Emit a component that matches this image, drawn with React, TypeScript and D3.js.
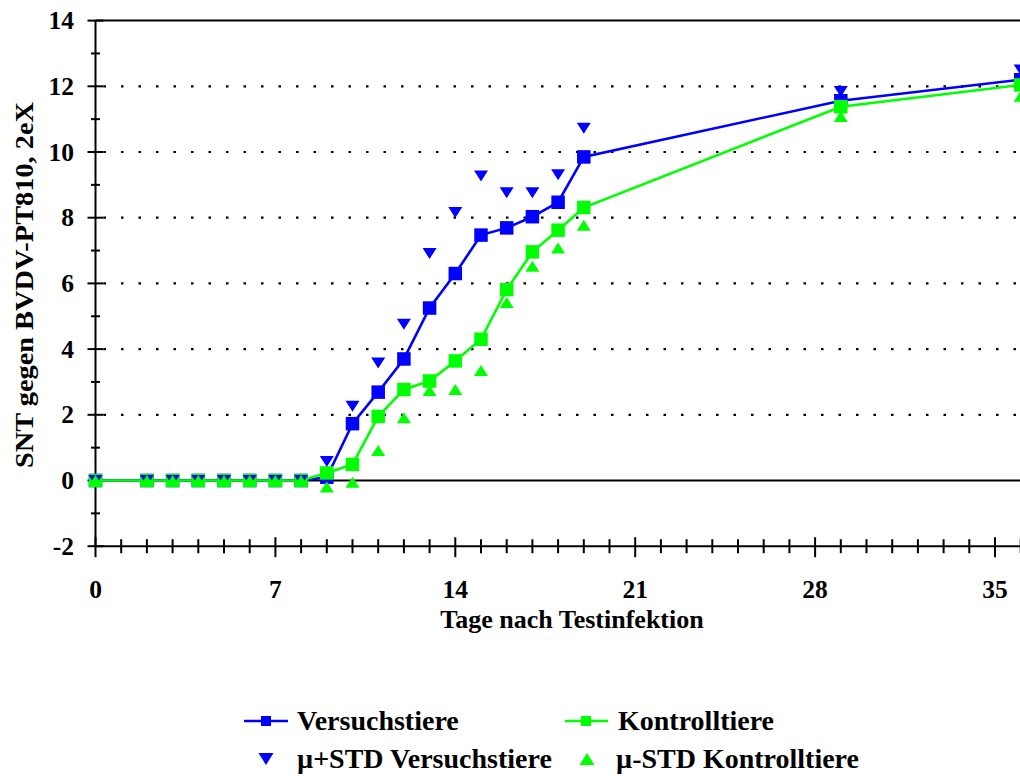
import React from "react";
import * as d3 from "d3";

const days = [0, 2, 3, 4, 5, 6, 7, 8, 9, 10, 11, 12, 13, 14, 15, 16, 17, 18, 19, 29, 36];
const versuch = [0, 0, 0, 0, 0, 0, 0, 0, 0.1, 1.73, 2.69, 3.7, 5.25, 6.3, 7.47, 7.69, 8.03, 8.47, 9.85, 11.56, 12.2];
const versuchPlus = [0, 0, 0, 0, 0, 0, 0, 0, 0.58, 2.26, 3.58, 4.76, 6.91, 8.16, 9.27, 8.76, 8.76, 9.31, 10.72, 11.84, 12.5];
const kontroll = [0, 0, 0, 0, 0, 0, 0, 0, 0.23, 0.49, 1.95, 2.77, 3.03, 3.64, 4.3, 5.81, 6.96, 7.62, 8.31, 11.38, 12.04];
const kontrollMinus = [0, 0, 0, 0, 0, 0, 0, 0, -0.2, -0.05, 0.91, 1.91, 2.74, 2.77, 3.35, 5.42, 6.52, 7.08, 7.77, 11.08, 11.7];

const xTicks = [0, 7, 14, 21, 28, 35];
const yTicks = [-2, 0, 2, 4, 6, 8, 10, 12, 14];
const gridValues = [2, 4, 6, 8, 10, 12];

const legendItems = ["Versuchstiere", "Kontrolltiere", "\u00b5+STD Versuchstiere", "\u00b5-STD Kontrolltiere"];
const xTitle = "Tage nach Testinfektion";
const yTitle = "SNT gegen BVDV-PT810, 2eX";

const BLUE = "#0000ff";
const GREEN = "#00ff00";
const FONT = "'Liberation Serif', 'Times New Roman', serif";

export default function App() {
  const W = 1020;
  const H = 776;
  const x = d3.scaleLinear().domain([0, 36]).range([95.5, 1020.7]);
  const y = d3.scaleLinear().domain([-2, 14]).range([546.2, 20.6]);
  const x0 = x(0);
  const xEnd = 1021;

  const lineGen = (vals: number[]) =>
    d3.line<number>()
      .x((_, i) => x(days[i]))
      .y((v) => y(v))(vals) || "";

  const sq = 13.5;
  const triW = 14;
  const triH = 11;
  const triDown = (cx: number, cy: number, w = triW, h = triH) =>
    `M${cx - w / 2},${cy - h / 2}L${cx + w / 2},${cy - h / 2}L${cx},${cy + h / 2}Z`;
  const triUp = (cx: number, cy: number, w = triW, h = triH) =>
    `M${cx - w / 2},${cy + h / 2}L${cx + w / 2},${cy + h / 2}L${cx},${cy - h / 2}Z`;

  const minorX = d3.range(0, 37);
  const minorY = d3.range(-1, 14, 2);

  return (
    <svg
      width={W}
      height={H}
      style={{ position: "absolute", left: 0, top: 0, background: "#fff" }}
      fontFamily={FONT}
      fontWeight="bold"
    >
      <rect x={0} y={0} width={W} height={H} fill="#fff" />
      {/* dotted grid */}
      {gridValues.map((v) => (
        <line
          key={"g" + v}
          x1={x0 + 8}
          x2={xEnd}
          y1={y(v)}
          y2={y(v)}
          stroke="#000"
          strokeWidth={2.2}
          strokeDasharray="2.5 15"
        />
      ))}
      {/* zero line */}
      <line x1={x0} x2={xEnd} y1={y(0)} y2={y(0)} stroke="#000" strokeWidth={2} />
      {/* top border */}
      <line x1={x0} x2={xEnd} y1={y(14)} y2={y(14)} stroke="#000" strokeWidth={2} />
      {/* x axis */}
      <line x1={x0} x2={xEnd} y1={y(-2)} y2={y(-2)} stroke="#000" strokeWidth={2} />
      {minorX.map((d) => {
        const major = d % 7 === 0;
        return (
          <line
            key={"xt" + d}
            x1={x(d)}
            x2={x(d)}
            y1={y(-2) - (major ? 9 : 7)}
            y2={y(-2) + (major ? 11 : 7)}
            stroke="#000"
            strokeWidth={2}
          />
        );
      })}
      {/* y axis */}
      <line x1={x0} x2={x0} y1={y(14)} y2={y(-2)} stroke="#000" strokeWidth={2} />
      {yTicks.map((v) => (
        <line key={"yt" + v} x1={x0 - 8} x2={x0 + 8} y1={y(v)} y2={y(v)} stroke="#000" strokeWidth={2} />
      ))}
      {minorY.map((v) => (
        <line key={"ym" + v} x1={x0 - 4.5} x2={x0 + 4.5} y1={y(v)} y2={y(v)} stroke="#000" strokeWidth={2} />
      ))}
      {/* tick labels */}
      {yTicks.map((v) => (
        <text key={"yl" + v} x={74} y={y(v) + 8.5} textAnchor="end" fontSize={25.5}>
          {v}
        </text>
      ))}
      {xTicks.map((v) => (
        <text key={"xl" + v} x={x(v)} y={598} textAnchor="middle" fontSize={25.5}>
          {v}
        </text>
      ))}
      <text x={572} y={628} textAnchor="middle" fontSize={26}>
        {xTitle}
      </text>
      <text
        transform="translate(33,285) rotate(-90)"
        textAnchor="middle"
        fontSize={26}
        textLength={366}
        lengthAdjust="spacingAndGlyphs"
      >
        {yTitle}
      </text>

      {/* series */}
      <path d={lineGen(versuch)} fill="none" stroke={BLUE} strokeWidth={2.6} />
      {versuch.map((v, i) => (
        <rect key={"bs" + i} x={x(days[i]) - sq / 2} y={y(v) - sq / 2} width={sq} height={sq} fill={BLUE} />
      ))}
      <path d={lineGen(kontroll)} fill="none" stroke={GREEN} strokeWidth={2.6} />
      {kontroll.map((v, i) => (
        <rect key={"gs" + i} x={x(days[i]) - sq / 2} y={y(v) - sq / 2} width={sq} height={sq} fill={GREEN} />
      ))}
      {versuchPlus.map((v, i) => (
        <path key={"bt" + i} d={triDown(x(days[i]), y(v))} fill={BLUE} />
      ))}
      {kontrollMinus.map((v, i) => (
        <path key={"gt" + i} d={triUp(x(days[i]), y(v))} fill={GREEN} />
      ))}

      {/* legend */}
      <line x1={244} x2={288} y1={721} y2={721} stroke={BLUE} strokeWidth={2.5} />
      <rect x={261} y={716} width={10} height={10} fill={BLUE} />
      <text x={297} y={730} fontSize={28}>{legendItems[0]}</text>
      <line x1={565} x2={608} y1={721} y2={721} stroke={GREEN} strokeWidth={2.5} />
      <rect x={581} y={716} width={10} height={10} fill={GREEN} />
      <text x={618} y={730} fontSize={28}>{legendItems[1]}</text>
      <path d={triDown(266, 759, 15, 12)} fill={BLUE} />
      <text x={297} y={768} fontSize={28}>{legendItems[2]}</text>
      <path d={triUp(587, 759, 15, 12)} fill={GREEN} />
      <text x={616} y={768} fontSize={28}>{legendItems[3]}</text>
    </svg>
  );
}
